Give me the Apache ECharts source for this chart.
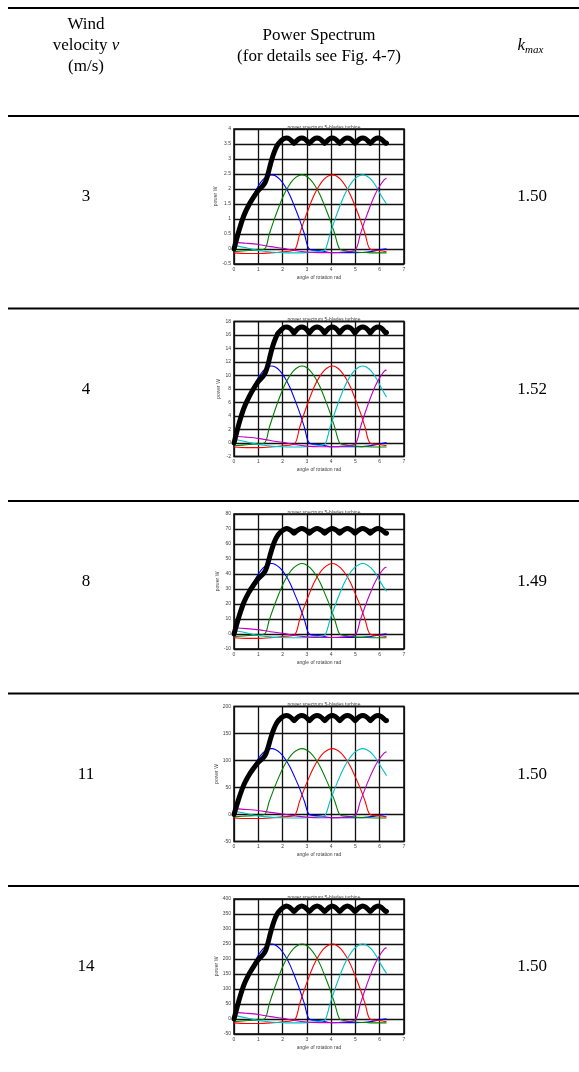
<!DOCTYPE html>
<html><head><meta charset="utf-8">
<script src="https://cdn.jsdelivr.net/npm/echarts@6/dist/echarts.min.js"></script>
<style>html,body{margin:0;padding:0;background:#fff;}#c{width:579px;height:1072px;}</style>
</head><body><div id="c"></div>
<script>
// ---------- data ----------
const windSpeeds = ['3', '4', '8', '11', '14'];
const kMax = ['1.50', '1.52', '1.49', '1.50', '1.50'];
const yMin = [-0.5, -2, -10, -50, -50];
const yMax = [4, 18, 80, 200, 400];
const yStep = [0.5, 2, 10, 50, 50];
const xMin = 0, xMax = 7, xStep = 1;

const angleBlack = [0,0.2,0.4,0.6,0.8,1.0,1.2,1.3,1.4,1.5,1.6,1.7,1.8,1.9,2.0,2.08,
  2.16,2.28,2.39,2.47,2.56,2.67, 2.79,2.91,3.02,3.10,3.19,3.30, 3.42,3.54,3.65,3.73,3.82,3.93,
  4.04,4.16,4.27,4.35,4.44,4.55, 4.67,4.79,4.90,4.98,5.07,5.18, 5.30,5.42,5.53,5.61,5.70,5.81,
  5.93,6.05,6.16,6.25,6.28];
const angleBlue = [0,0.2,0.4,0.6,0.8,1.0,1.2,1.4,1.55,1.7,1.9,2.1,2.3,2.5,2.7,2.9,3.1,3.5,4.0,4.5,5.0,5.5,6.0,6.28];
const angleGreen = [0,0.6,1.25,1.45,1.65,1.85,2.05,2.25,2.45,2.65,2.8,2.95,3.15,3.35,3.55,3.75,3.95,4.15,4.35,4.6,5.0,5.5,6.0,6.28];
const angleRed = [0,0.5,1.0,1.5,2.0,2.5,2.7,2.9,3.1,3.3,3.5,3.7,3.9,4.05,4.2,4.4,4.6,4.8,5.0,5.2,5.4,5.6,6.0,6.28];
const angleCyan = [0,0.5,1.0,1.5,2.0,2.5,3.0,3.5,3.75,3.95,4.15,4.35,4.55,4.75,4.95,5.15,5.3,5.45,5.65,5.85,6.05,6.28];
const angleMagenta = [0,0.5,1.0,1.5,2.0,2.5,3.0,3.5,4.0,4.5,5.0,5.2,5.4,5.6,5.8,6.0,6.2,6.28];

// v = 3 m/s
const black1 = [0,0.6,1.1,1.45,1.72,1.95,2.12,2.25,2.5,2.82,3.1,3.32,3.48,3.58,3.65,3.69,
  3.70,3.67,3.59,3.52,3.59,3.67, 3.70,3.67,3.59,3.52,3.59,3.67, 3.70,3.67,3.59,3.52,3.59,3.67,
  3.70,3.67,3.59,3.52,3.59,3.67, 3.70,3.67,3.59,3.52,3.59,3.67, 3.70,3.67,3.59,3.52,3.59,3.67,
  3.70,3.67,3.59,3.52,3.53];
const blue1 = [0,0.49,0.97,1.41,1.80,2.10,2.32,2.44,2.47,2.44,2.31,2.09,1.79,1.40,0.98,0.50,0,-0.05,-0.12,-0.12,-0.12,-0.1,-0.03,0.01];
const green1 = [-0.09,-0.05,0,0.49,0.97,1.41,1.80,2.10,2.32,2.44,2.47,2.44,2.31,2.09,1.79,1.40,0.98,0.50,0,-0.06,-0.1,-0.12,-0.13,-0.13];
const red1 = [-0.13,-0.15,-0.15,-0.13,-0.09,-0.02,0.49,0.97,1.41,1.80,2.10,2.32,2.44,2.47,2.44,2.31,2.09,1.79,1.40,0.98,0.50,0,-0.05,-0.09];
const cyan1 = [0.12,0.04,-0.05,-0.1,-0.12,-0.13,-0.12,-0.08,-0.03,0.49,0.97,1.41,1.80,2.10,2.32,2.44,2.47,2.44,2.31,2.09,1.79,1.5];
const magenta1 = [0.22,0.19,0.15,0.08,0.02,-0.05,-0.1,-0.12,-0.12,-0.1,-0.02,0.49,0.97,1.41,1.80,2.10,2.32,2.36];

// v = 4 m/s
const black2 = [0,2.8,5.1,6.7,8.0,9.1,9.9,10.5,11.6,13.1,14.4,15.4,16.2,16.6,16.95,17.15,
  17.2,17.05,16.7,16.3,16.7,17.05, 17.2,17.05,16.7,16.3,16.7,17.05, 17.2,17.05,16.7,16.3,16.7,17.05,
  17.2,17.05,16.7,16.3,16.7,17.05, 17.2,17.05,16.7,16.3,16.7,17.05, 17.2,17.05,16.7,16.3,16.7,17.05,
  17.2,17.05,16.7,16.3,16.35];
const blue2 = [0,2.26,4.48,6.51,8.31,9.69,10.7,11.26,11.4,11.26,10.66,9.64,8.27,6.46,4.53,2.3,0,-0.23,-0.55,-0.55,-0.55,-0.46,-0.14,0.05];
const green2 = [-0.41,-0.23,0,2.26,4.48,6.51,8.31,9.69,10.7,11.26,11.4,11.26,10.66,9.64,8.27,6.46,4.53,2.3,0,-0.28,-0.46,-0.55,-0.6,-0.6];
const red2 = [-0.6,-0.69,-0.69,-0.6,-0.41,-0.09,2.26,4.48,6.51,8.31,9.69,10.7,11.26,11.4,11.26,10.66,9.64,8.27,6.46,4.53,2.3,0,-0.23,-0.41];
const cyan2 = [0.55,0.18,-0.23,-0.46,-0.55,-0.6,-0.55,-0.37,-0.14,2.26,4.48,6.51,8.31,9.69,10.7,11.26,11.4,11.26,10.66,9.64,8.27,6.8];
const magenta2 = [1.0,0.87,0.69,0.37,0.09,-0.23,-0.46,-0.55,-0.55,-0.46,-0.09,2.26,4.48,6.51,8.31,9.69,10.7,10.8];

// v = 8 m/s
const black3 = [0,11.3,20.8,27.4,32.5,36.9,40.1,42.5,47.3,53.3,58.6,62.8,65.8,67.7,69.0,69.8,
  70.3,69.7,68.4,67.1,68.4,69.7, 70.3,69.7,68.4,67.1,68.4,69.7, 70.3,69.7,68.4,67.1,68.4,69.7,
  70.3,69.7,68.4,67.1,68.4,69.7, 70.3,69.7,68.4,67.1,68.4,69.7, 70.3,69.7,68.4,67.1,68.4,69.7,
  70.3,69.7,68.4,67.1,67.2];
const blue3 = [0,9.3,18.5,26.8,34.3,40.0,44.1,46.4,47,46.4,43.9,39.8,34.1,26.6,18.7,9.5,0,-1.0,-2.3,-2.3,-2.3,-1.9,-0.6,0.2];
const green3 = [-1.7,-1.0,0,9.3,18.5,26.8,34.3,40.0,44.1,46.4,47,46.4,43.9,39.8,34.1,26.6,18.7,9.5,0,-1.1,-1.9,-2.3,-2.5,-2.5];
const red3 = [-2.5,-2.9,-2.9,-2.5,-1.7,-0.4,9.3,18.5,26.8,34.3,40.0,44.1,46.4,47,46.4,43.9,39.8,34.1,26.6,18.7,9.5,0,-1.0,-1.7];
const cyan3 = [2.3,0.8,-1.0,-1.9,-2.3,-2.5,-2.3,-1.5,-0.6,9.3,18.5,26.8,34.3,40.0,44.1,46.4,47,46.4,43.9,39.8,34.1,28.5];
const magenta3 = [4.2,3.6,2.9,1.5,0.4,-1.0,-1.9,-2.3,-2.3,-1.9,-0.4,9.3,18.5,26.8,34.3,40.0,44.1,44.5];

// v = 11 m/s
const black4 = [0,29.7,54.4,71.8,85.1,96.5,104.9,111.4,123.7,139.6,153.4,164.3,172.2,177.2,180.7,182.6,
  183.5,181.8,177.7,173.8,177.7,181.8, 183.5,181.8,177.7,173.8,177.7,181.8, 183.5,181.8,177.7,173.8,177.7,181.8,
  183.5,181.8,177.7,173.8,177.7,181.8, 183.5,181.8,177.7,173.8,177.7,181.8, 183.5,181.8,177.7,173.8,177.7,181.8,
  183.5,181.8,177.7,173.8,174];
const blue4 = [0,24.2,47.9,69.7,88.9,103.7,114.6,120.5,122,120.5,114.1,103.2,88.5,69.2,48.4,24.6,0,-2.5,-5.9,-5.9,-5.9,-4.9,-1.5,0.5];
const green4 = [-4.4,-2.5,0,24.2,47.9,69.7,88.9,103.7,114.6,120.5,122,120.5,114.1,103.2,88.5,69.2,48.4,24.6,0,-3,-4.9,-5.9,-6.4,-6.4];
const red4 = [-6.4,-7.4,-7.4,-6.4,-4.4,-1,24.2,47.9,69.7,88.9,103.7,114.6,120.5,122,120.5,114.1,103.2,88.5,69.2,48.4,24.6,0,-2.5,-4.4];
const cyan4 = [5.9,2,-2.5,-4.9,-5.9,-6.4,-5.9,-4,-1.5,24.2,47.9,69.7,88.9,103.7,114.6,120.5,122,120.5,114.1,103.2,88.5,72];
const magenta4 = [10.9,9.4,7.4,4,1,-2.5,-4.9,-5.9,-5.9,-4.9,-1,24.2,47.9,69.7,88.9,103.7,114.6,116];

// v = 14 m/s
const black5 = [0,61,112,147,174,198,215,228,254,286,314,337,353,363,370,374,
  377,373,365,358,365,373, 377,373,365,358,365,373, 377,373,365,358,365,373,
  377,373,365,358,365,373, 377,373,365,358,365,373, 377,373,365,358,365,373,
  377,373,365,358,359];
const blue5 = [0,49.5,98.3,142.8,182.3,212.5,234.8,247,250,247,233.8,211.5,181.3,141.8,99.3,50.5,0,-5,-12,-12,-12,-10,-3,1];
const green5 = [-9,-5,0,49.5,98.3,142.8,182.3,212.5,234.8,247,250,247,233.8,211.5,181.3,141.8,99.3,50.5,0,-6,-10,-12,-13,-13];
const red5 = [-13,-15,-15,-13,-9,-2,49.5,98.3,142.8,182.3,212.5,234.8,247,250,247,233.8,211.5,181.3,141.8,99.3,50.5,0,-5,-9];
const cyan5 = [12,4,-5,-10,-12,-13,-12,-8,-3,49.5,98.3,142.8,182.3,212.5,234.8,247,250,247,233.8,211.5,181.3,152];
const magenta5 = [22,19,15,8,2,-5,-10,-12,-12,-10,-2,49.5,98.3,142.8,182.3,212.5,234.8,237];

const blackSets = [black1, black2, black3, black4, black5];
const blueSets = [blue1, blue2, blue3, blue4, blue5];
const greenSets = [green1, green2, green3, green4, green5];
const redSets = [red1, red2, red3, red4, red5];
const cyanSets = [cyan1, cyan2, cyan3, cyan4, cyan5];
const magentaSets = [magenta1, magenta2, magenta3, magenta4, magenta5];

const chartTitle = 'power spectrum 5-blades turbine';
const yName = 'power W';
const xName = 'angle of rotation rad';

// ---------- layout ----------
const plotLeft = 234, plotW = 170, plotH = 135;
const plotTops = [129, 321.5, 514, 706.5, 899];
const serif = '"Liberation Serif","Times New Roman",serif';
const sans = '"Liberation Sans",Arial,sans-serif';

const zip = (xs, ys) => xs.map((x, i) => [x, ys[i]]);

const grids = [], xAxes = [], yAxes = [], series = [], titles = [], graphics = [];

function rule(y) {
  graphics.push({type: 'line', shape: {x1: 8, y1: y, x2: 579, y2: y}, style: {stroke: '#000', lineWidth: 2}});
}
function txt(x, y, text, size) {
  graphics.push({type: 'text', x: x, y: y,
    style: {text: text, font: size + 'px ' + serif, fill: '#000', align: 'center', verticalAlign: 'middle'}});
}

// header
rule(8);
txt(86, 25, 'Wind', 17);
graphics.push({type: 'text', x: 86, y: 46, style: {
  text: '{a|velocity }{b|v}', align: 'center', verticalAlign: 'middle', fill: '#000',
  rich: {a: {font: '17px ' + serif, fill: '#000'}, b: {font: 'italic 17px ' + serif, fill: '#000'}}}});
txt(86, 67, '(m/s)', 17);
txt(319, 36, 'Power Spectrum', 17);
txt(319, 57, '(for details see Fig. 4-7)', 17);
graphics.push({type: 'text', x: 525, y: 46, style: {text: 'k', font: 'italic 17px ' + serif, fill: '#000', align: 'right', verticalAlign: 'middle'}});
graphics.push({type: 'text', x: 525, y: 50, style: {text: 'max', font: 'italic 11px ' + serif, fill: '#000', align: 'left', verticalAlign: 'middle'}});

const colorDefs = [
  ['#0000ff', blueSets, angleBlue],
  ['#008000', greenSets, angleGreen],
  ['#ff0000', redSets, angleRed],
  ['#00bfbf', cyanSets, angleCyan],
  ['#bf00bf', magentaSets, angleMagenta]
];

for (let i = 0; i < 5; i++) {
  const top = plotTops[i];
  rule(top - 13);
  txt(86, top + 68, windSpeeds[i], 17);
  txt(532, top + 68, kMax[i], 17);
  grids.push({left: plotLeft, top: top, width: plotW, height: plotH, show: true,
    borderColor: '#000', borderWidth: 1.5, backgroundColor: 'transparent'});
  titles.push({text: chartTitle, left: plotLeft + plotW / 2, top: top - 9, textAlign: 'center',
    textStyle: {fontSize: 5, fontWeight: 'normal', color: '#444', fontFamily: sans}});
  xAxes.push({type: 'value', gridIndex: i, min: xMin, max: xMax, interval: xStep,
    name: xName, nameLocation: 'middle', nameGap: 11,
    nameTextStyle: {fontSize: 5, color: '#444', fontFamily: sans},
    axisLine: {show: false}, axisTick: {show: false},
    axisLabel: {fontSize: 5, color: '#444', margin: 3, fontFamily: sans},
    splitLine: {show: true, lineStyle: {color: '#111', width: 1.3}}});
  yAxes.push({type: 'value', gridIndex: i, min: yMin[i], max: yMax[i], interval: yStep[i],
    name: yName, nameLocation: 'middle', nameGap: 13, nameRotate: 90,
    nameTextStyle: {fontSize: 5, color: '#444', fontFamily: sans},
    axisLine: {show: false}, axisTick: {show: false},
    axisLabel: {fontSize: 5, color: '#444', margin: 3, fontFamily: sans},
    splitLine: {show: true, lineStyle: {color: '#111', width: 1.3}}});
  colorDefs.forEach(([c, sets, xs]) => {
    series.push({type: 'line', xAxisIndex: i, yAxisIndex: i, data: zip(xs, sets[i]),
      showSymbol: false, smooth: 0.3, lineStyle: {color: c, width: 1.1}, silent: true, animation: false, z: 3});
  });
  series.push({type: 'line', xAxisIndex: i, yAxisIndex: i, data: zip(angleBlack, blackSets[i]),
    showSymbol: false, smooth: 0.2, lineStyle: {color: '#000', width: 5, cap: 'round', join: 'round'},
    silent: true, animation: false, z: 4});
}

const chart = echarts.init(document.getElementById('c'), null, {renderer: 'canvas'});
chart.setOption({
  animation: false,
  backgroundColor: '#fff',
  title: titles,
  grid: grids,
  xAxis: xAxes,
  yAxis: yAxes,
  series: series,
  graphic: graphics
});
</script>
</body></html>
